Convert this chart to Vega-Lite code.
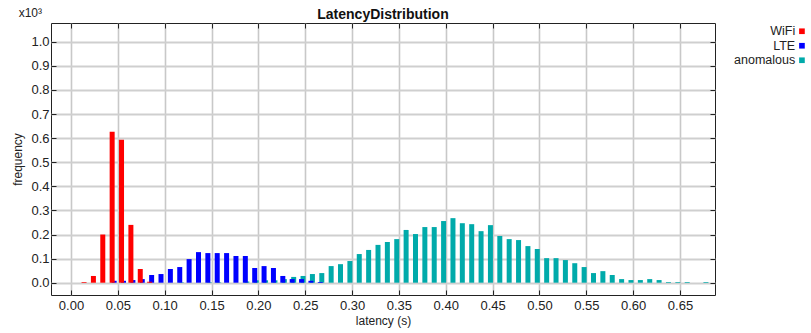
{
  "$schema": "https://vega.github.io/schema/vega-lite/v6.json",
  "width": 664,
  "height": 272,
  "autosize": "none",
  "padding": {"left": 51, "top": 23, "right": 96, "bottom": 38},
  "background": "white",
  "config": {
    "font": "Liberation Sans",
    "view": {"stroke": "#222222", "strokeWidth": 1},
    "axis": {"domain": false, "labelColor": "#222222", "titleColor": "#222222", "titleFontWeight": "normal"}
  },
  "title": {"text": "LatencyDistribution", "fontSize": 14, "fontWeight": "bold", "anchor": "middle", "offset": 5, "dy": 20, "color": "#111111"},
  "datasets": {
    "hist": [
      {"series": "WiFi", "latency": 0.015, "count": 3},
      {"series": "WiFi", "latency": 0.025, "count": 28},
      {"series": "WiFi", "latency": 0.035, "count": 200},
      {"series": "WiFi", "latency": 0.045, "count": 627},
      {"series": "WiFi", "latency": 0.055, "count": 593},
      {"series": "WiFi", "latency": 0.065, "count": 240},
      {"series": "WiFi", "latency": 0.075, "count": 57},
      {"series": "WiFi", "latency": 0.085, "count": 4},
      {"series": "LTE", "latency": 0.045, "count": 8},
      {"series": "LTE", "latency": 0.055, "count": 8},
      {"series": "LTE", "latency": 0.065, "count": 11},
      {"series": "LTE", "latency": 0.075, "count": 15},
      {"series": "LTE", "latency": 0.085, "count": 32},
      {"series": "LTE", "latency": 0.095, "count": 36},
      {"series": "LTE", "latency": 0.105, "count": 57},
      {"series": "LTE", "latency": 0.115, "count": 65},
      {"series": "LTE", "latency": 0.125, "count": 98},
      {"series": "LTE", "latency": 0.135, "count": 127},
      {"series": "LTE", "latency": 0.145, "count": 123},
      {"series": "LTE", "latency": 0.155, "count": 123},
      {"series": "LTE", "latency": 0.165, "count": 123},
      {"series": "LTE", "latency": 0.175, "count": 111},
      {"series": "LTE", "latency": 0.185, "count": 111},
      {"series": "LTE", "latency": 0.195, "count": 61},
      {"series": "LTE", "latency": 0.205, "count": 69},
      {"series": "LTE", "latency": 0.215, "count": 61},
      {"series": "LTE", "latency": 0.225, "count": 28},
      {"series": "LTE", "latency": 0.235, "count": 15},
      {"series": "LTE", "latency": 0.245, "count": 15},
      {"series": "LTE", "latency": 0.255, "count": 8},
      {"series": "LTE", "latency": 0.265, "count": 3},
      {"series": "anomalous", "latency": 0.115, "count": 2},
      {"series": "anomalous", "latency": 0.145, "count": 2},
      {"series": "anomalous", "latency": 0.155, "count": 2},
      {"series": "anomalous", "latency": 0.185, "count": 5},
      {"series": "anomalous", "latency": 0.195, "count": 10},
      {"series": "anomalous", "latency": 0.205, "count": 10},
      {"series": "anomalous", "latency": 0.215, "count": 10},
      {"series": "anomalous", "latency": 0.225, "count": 15},
      {"series": "anomalous", "latency": 0.235, "count": 24},
      {"series": "anomalous", "latency": 0.245, "count": 28},
      {"series": "anomalous", "latency": 0.255, "count": 36},
      {"series": "anomalous", "latency": 0.265, "count": 40},
      {"series": "anomalous", "latency": 0.275, "count": 69},
      {"series": "anomalous", "latency": 0.285, "count": 77},
      {"series": "anomalous", "latency": 0.295, "count": 90},
      {"series": "anomalous", "latency": 0.305, "count": 119},
      {"series": "anomalous", "latency": 0.315, "count": 136},
      {"series": "anomalous", "latency": 0.325, "count": 157},
      {"series": "anomalous", "latency": 0.335, "count": 169},
      {"series": "anomalous", "latency": 0.345, "count": 181},
      {"series": "anomalous", "latency": 0.355, "count": 219},
      {"series": "anomalous", "latency": 0.365, "count": 202},
      {"series": "anomalous", "latency": 0.375, "count": 231},
      {"series": "anomalous", "latency": 0.385, "count": 231},
      {"series": "anomalous", "latency": 0.395, "count": 256},
      {"series": "anomalous", "latency": 0.405, "count": 268},
      {"series": "anomalous", "latency": 0.415, "count": 247},
      {"series": "anomalous", "latency": 0.425, "count": 243},
      {"series": "anomalous", "latency": 0.435, "count": 214},
      {"series": "anomalous", "latency": 0.445, "count": 239},
      {"series": "anomalous", "latency": 0.455, "count": 194},
      {"series": "anomalous", "latency": 0.465, "count": 181},
      {"series": "anomalous", "latency": 0.475, "count": 177},
      {"series": "anomalous", "latency": 0.485, "count": 152},
      {"series": "anomalous", "latency": 0.495, "count": 140},
      {"series": "anomalous", "latency": 0.505, "count": 102},
      {"series": "anomalous", "latency": 0.515, "count": 102},
      {"series": "anomalous", "latency": 0.525, "count": 94},
      {"series": "anomalous", "latency": 0.535, "count": 81},
      {"series": "anomalous", "latency": 0.545, "count": 65},
      {"series": "anomalous", "latency": 0.555, "count": 40},
      {"series": "anomalous", "latency": 0.565, "count": 48},
      {"series": "anomalous", "latency": 0.575, "count": 32},
      {"series": "anomalous", "latency": 0.585, "count": 15},
      {"series": "anomalous", "latency": 0.595, "count": 11},
      {"series": "anomalous", "latency": 0.605, "count": 11},
      {"series": "anomalous", "latency": 0.615, "count": 15},
      {"series": "anomalous", "latency": 0.625, "count": 11},
      {"series": "anomalous", "latency": 0.635, "count": 3},
      {"series": "anomalous", "latency": 0.645, "count": 3},
      {"series": "anomalous", "latency": 0.655, "count": 3},
      {"series": "anomalous", "latency": 0.675, "count": 3}
    ],
    "note": [{"label": "x10³"}]
  },
  "layer": [
    {
      "data": {"name": "hist"},
      "transform": [{"filter": "datum.series == 'anomalous'"}],
      "mark": {"type": "bar", "width": 5, "xOffset": 2.5, "clip": true},
      "encoding": {
        "x": {"field": "latency", "type": "quantitative",
          "scale": {"domain": [-0.016, 0.682], "nice": false, "zero": false},
          "axis": {"orient": "bottom", "title": "latency (s)", "values": [0, 0.05, 0.1, 0.15, 0.2, 0.25, 0.3, 0.35, 0.4, 0.45, 0.5, 0.55, 0.6, 0.65],
            "format": ".2f", "ticks": false, "tickSize": 0, "labelPadding": 4, "labelFontSize": 13, "titleFontSize": 12, "titlePadding": 3,
            "grid": true, "gridColor": "#c8c8c8", "gridWidth": 1.6}},
        "y": {"field": "count", "type": "quantitative",
          "scale": {"domain": [-51, 1078], "nice": false, "zero": false},
          "axis": {"orient": "left", "title": "frequency", "values": [0, 100, 200, 300, 400, 500, 600, 700, 800, 900, 1000],
            "labelExpr": "format(datum.value / 1000, '.1f')", "ticks": false, "tickSize": 0, "labelPadding": 2, "labelFontSize": 13, "titleFontSize": 12, "titlePadding": 6,
            "grid": true, "gridColor": "#cfcfcf", "gridWidth": 1.8}},
        "color": {"field": "series", "type": "nominal",
          "scale": {"domain": ["WiFi", "LTE", "anomalous"], "range": ["#ff0000", "#0000ff", "#00aaaa"]},
          "legend": {"title": null, "orient": "none", "legendX": 744.7, "legendY": 2, "padding": 0,
            "symbolType": "square", "symbolSize": 32, "symbolStrokeWidth": 0, "symbolOpacity": 1,
            "labelAlign": "right", "labelOffset": -13, "labelFontSize": 12.5, "labelColor": "#222222", "rowPadding": 1.5}}
      }
    },
    {
      "data": {"name": "hist"},
      "transform": [{"filter": "datum.series == 'LTE'"}],
      "mark": {"type": "bar", "width": 5, "xOffset": 1, "clip": true},
      "encoding": {
        "x": {"field": "latency", "type": "quantitative",
          "axis": {"orient": "top", "offset": -272, "title": null, "labels": false, "grid": false, "values": [0, 0.05, 0.1, 0.15, 0.2, 0.25, 0.3, 0.35, 0.4, 0.45, 0.5, 0.55, 0.6, 0.65], "tickSize": 5, "tickColor": "#222222", "tickWidth": 1}},
        "y": {"field": "count", "type": "quantitative",
          "axis": {"orient": "right", "offset": -664, "title": null, "labels": false, "grid": false, "values": [0, 100, 200, 300, 400, 500, 600, 700, 800, 900, 1000], "tickSize": 5, "tickColor": "#222222", "tickWidth": 1}},
        "color": {"field": "series", "type": "nominal"}
      }
    },
    {
      "data": {"name": "hist"},
      "transform": [{"filter": "datum.series == 'WiFi'"}],
      "mark": {"type": "bar", "width": 5, "xOffset": -1, "clip": true},
      "encoding": {
        "x": {"field": "latency", "type": "quantitative",
          "axis": {"orient": "bottom", "offset": -272, "title": null, "labels": false, "grid": false, "values": [0, 0.05, 0.1, 0.15, 0.2, 0.25, 0.3, 0.35, 0.4, 0.45, 0.5, 0.55, 0.6, 0.65], "tickSize": 5, "tickColor": "#222222", "tickWidth": 1}},
        "y": {"field": "count", "type": "quantitative",
          "axis": {"orient": "left", "offset": -664, "title": null, "labels": false, "grid": false, "values": [0, 100, 200, 300, 400, 500, 600, 700, 800, 900, 1000], "tickSize": 5, "tickColor": "#222222", "tickWidth": 1}},
        "color": {"field": "series", "type": "nominal"}
      }
    },
    {
      "data": {"name": "note"},
      "mark": {"type": "text", "align": "right", "baseline": "alphabetic", "dx": -14, "dy": -6, "fontSize": 12, "color": "#222222", "clip": false},
      "encoding": {
        "x": {"datum": -0.016, "type": "quantitative", "axis": null},
        "y": {"datum": 1078, "type": "quantitative", "axis": null},
        "text": {"field": "label"}
      }
    }
  ],
  "resolve": {"axis": {"x": "independent", "y": "independent"}}
}
